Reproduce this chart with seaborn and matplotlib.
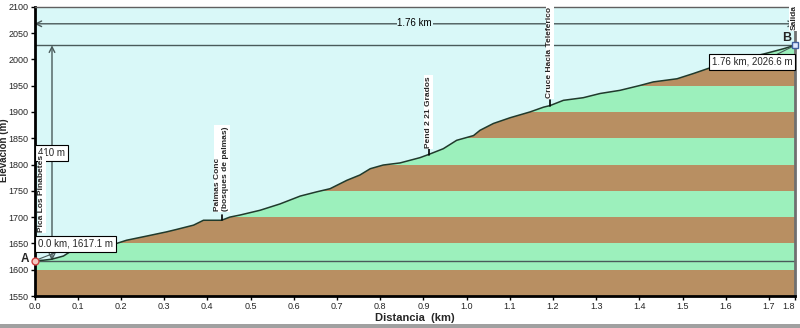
import numpy as np
import matplotlib
matplotlib.use("Agg")
import matplotlib.pyplot as plt
import seaborn as sns

sns.set_style("white")
plt.rcParams["font.family"] = ["Liberation Sans Narrow", "Liberation Sans", "DejaVu Sans"]

# Elevation profile (distance in km, elevation in m)
dist = [0.0, 0.02, 0.04, 0.067, 0.086, 0.10, 0.14, 0.179, 0.213, 0.26, 0.306, 0.329,
        0.368, 0.391, 0.433, 0.452, 0.476, 0.522, 0.568, 0.615, 0.653, 0.684, 0.723,
        0.753, 0.777, 0.807, 0.846, 0.892, 0.912, 0.946, 0.977, 1.016, 1.031, 1.062,
        1.101, 1.147, 1.178, 1.193, 1.224, 1.270, 1.309, 1.355, 1.40, 1.432, 1.487,
        1.525, 1.564, 1.587, 1.62, 1.65, 1.687, 1.71, 1.733, 1.76]
elev = [1617.1, 1618, 1620, 1626, 1636, 1638, 1642, 1647, 1656, 1664, 1672, 1676.6,
        1684.7, 1694, 1694, 1700, 1704, 1713, 1725, 1740, 1748, 1754, 1770,
        1780, 1792, 1799, 1803, 1813, 1819, 1830, 1846, 1855, 1865, 1878,
        1889, 1900, 1909, 1912, 1922, 1927, 1935, 1941, 1950, 1957, 1963,
        1973, 1984, 1991, 1997, 2003, 2010, 2015, 2020, 2026.6]

# Waypoints along the route
wp_names = ["Pica Los Pinabetes", "Palmas Conc\n(bosques de palmas)", "Pend 2 21 Grados",
            "Cruce Hacia Teleferico", "Salida"]
wp_dist = [0.017, 0.433, 0.912, 1.193, 1.757]
wp_elev = [1618.0, 1694.0, 1819.0, 1912.0, 2026.6]
wp_text_base = [1671, 1712, 1832, 1927, 2056]

start_km, start_m = 0.0, 1617.1
end_km, end_m = 1.76, 2026.6
total_km = 1.76
gain_m = 410
dim_line_m = 2067.5

y_ticks = list(range(1550, 2101, 50))
x_ticks = [round(0.1 * i, 1) for i in range(18)] + [1.76]
x_tick_labels = [f"{t:.1f}" for t in x_ticks[:-1]] + ["1.8"]

SKY = "#d9f8f8"
GREEN = "#9cf0bc"
BROWN = "#b88f62"
LINE = "#203a2c"
GUIDE = "#4a5a5a"

fig = plt.figure(figsize=(8, 3.28), dpi=100)
ax = fig.add_axes([34.5 / 800, 1 - 296 / 328, (795 - 34.5) / 800, (296 - 6.7) / 328])
ax.set_facecolor(SKY)
ax.set_xlim(0, total_km)
ax.set_ylim(1550, 2100)

# Terrain: alternating 50 m bands, clipped to the area below the profile
ground = ax.fill_between(dist, 1550, elev, facecolor="none", edgecolor="none")
clip_path = ground.get_paths()[0]
for i, lo in enumerate(range(1550, 2100, 50)):
    band = ax.axhspan(lo, lo + 50, color=BROWN if i % 2 == 0 else GREEN, lw=0, zorder=1)
    band.set_clip_path(clip_path, transform=ax.transData)

sns.lineplot(x=dist, y=elev, ax=ax, color=LINE, lw=1.1, zorder=3)

# Reference lines: start and end elevation, total distance
ax.axhline(start_m, color=GUIDE, lw=1.0, zorder=2)
ax.axhline(end_m, color=GUIDE, lw=1.0, zorder=2)
ax.annotate("", xy=(0, dim_line_m), xytext=(total_km, dim_line_m),
            arrowprops=dict(arrowstyle="<->", color=GUIDE, lw=1.0, shrinkA=0, shrinkB=0),
            zorder=2)
ax.text(total_km / 2, dim_line_m + 2, f"{total_km:.2f} km", ha="center", va="center",
        fontsize=7, color="black", zorder=4,
        bbox=dict(facecolor=SKY, edgecolor="none", pad=0.5))

# Elevation gain dimension
ax.annotate("", xy=(0.0405, end_m), xytext=(0.0405, start_m),
            arrowprops=dict(arrowstyle="<->", color=GUIDE, lw=1.0, shrinkA=0, shrinkB=0),
            zorder=2)
ax.text(0.0085, 1822, f"{gain_m} m", ha="left", va="center", fontsize=7, zorder=5,
        bbox=dict(facecolor="white", edgecolor="black", lw=0.8, pad=2))

# Waypoint markers with vertical labels
for name, xk, ym, yb in zip(wp_names, wp_dist, wp_elev, wp_text_base):
    if name != "Pica Los Pinabetes" and name != "Salida":
        ax.plot([xk, xk], [ym, ym + 10], color="black", lw=1.2, zorder=4)
    ax.text(xk, yb, name, rotation=90, ha="center", va="bottom", fontsize=6,
            fontweight="bold", multialignment="left", zorder=5, linespacing=1.05,
            bbox=dict(facecolor="white", edgecolor="none", pad=0.6))

# Start / end points and their value boxes
ax.plot([start_km], [start_m], marker="o", ms=5, mfc="#f4c8c0", mec="#d04040", mew=1,
        clip_on=False, zorder=6)
ax.plot([end_km], [end_m], marker="s", ms=5, mfc="#dfe8ff", mec="#4060a0", mew=1,
        clip_on=False, zorder=6)
ax.text(-0.013, start_m + 4, "A", ha="right", va="center", fontsize=8.5, fontweight="bold")
ax.text(1.741, 2040, "B", ha="center", va="center", fontsize=9, fontweight="bold")

ax.plot([start_km, 0.06], [start_m, 1636], color=GUIDE, lw=0.8, zorder=4)
ax.text(0.0085, 1649, f"{start_km:.1f} km, {start_m:.1f} m", ha="left", va="center",
        fontsize=7, zorder=5, bbox=dict(facecolor="white", edgecolor="black", lw=0.8, pad=2))
ax.plot([end_km, 1.71], [end_m, 2006], color=GUIDE, lw=0.8, zorder=4)
ax.text(1.7545, 1995, f"{end_km:.2f} km, {end_m:.1f} m", ha="right", va="center",
        fontsize=7, zorder=5, bbox=dict(facecolor="white", edgecolor="black", lw=0.8, pad=2))

# Axes, ticks and labels
ax.set_xticks(x_ticks)
ax.set_xticklabels(x_tick_labels)
ax.set_yticks(y_ticks)
ax.tick_params(axis="both", direction="out", length=3, width=1, color="black",
               labelsize=6.5, pad=1.5, bottom=True, left=True)
ax.get_xticklabels()[-1].set_horizontalalignment("right")
for side in ("left", "bottom"):
    ax.spines[side].set_color("black")
    ax.spines[side].set_linewidth(2)
ax.spines["top"].set_color("#606060")
ax.spines["top"].set_linewidth(1)
ax.spines["right"].set_color("#707070")
ax.spines["right"].set_linewidth(2)

fig.text(4.5 / 800, 1 - 150 / 328, "Elevación (m)", rotation=90, ha="center", va="center",
         fontsize=7, fontweight="bold")
fig.text(415 / 800, 1 - 318 / 328, "Distancia  (km)", ha="center", va="center",
         fontsize=8, fontweight="bold")

# window frame strip along the bottom
fig.patches.append(plt.Rectangle((0, 0), 1, 4 / 328, transform=fig.transFigure,
                                 facecolor="#a0a0a0", edgecolor="none"))

fig.savefig("out.png", dpi=100)
